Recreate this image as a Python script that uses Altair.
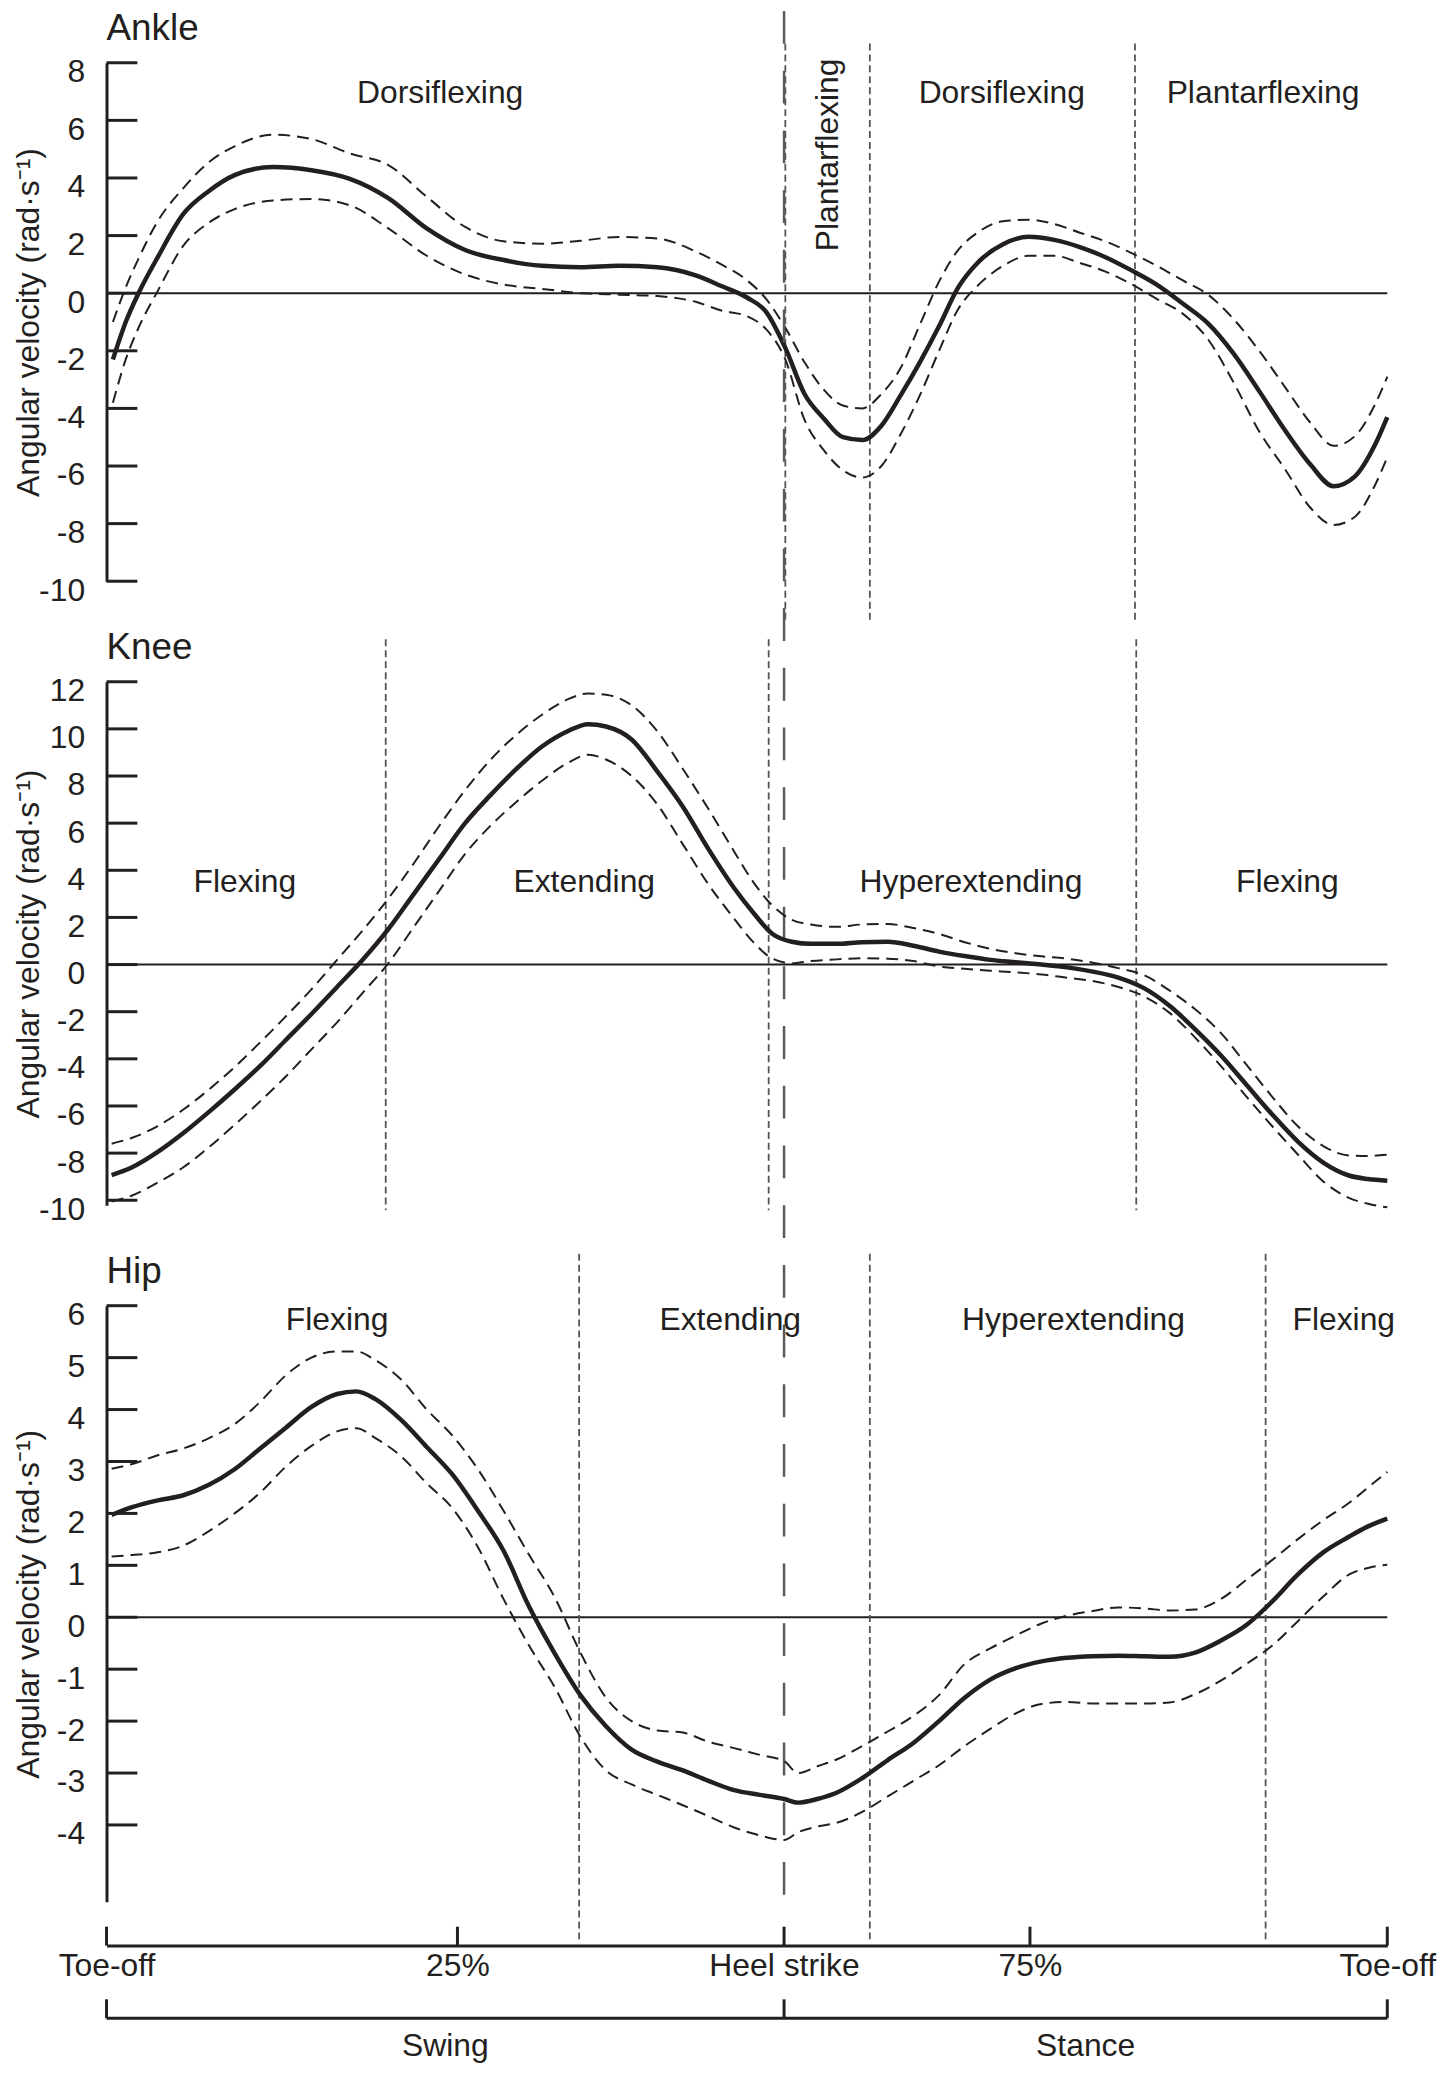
import altair as alt
import pandas as pd

FONT = "Liberation Sans"
INK = "#231f20"
W = 1287

# ---------------- data (x = % of the plotted gait cycle width) ----------------
ankle_x = [0.5, 1.5, 2.5, 4, 6, 8, 10, 13, 16, 19, 22, 25, 28, 31, 34, 37, 40, 43, 46, 48,
           50, 51.5, 53, 54.5, 56, 57.5, 59, 60.5, 62, 63.5, 65, 66.5, 68, 70, 72, 74, 76, 78, 80, 82,
           84, 86, 88, 90, 92, 94, 95.8, 97.5, 99, 100]
ankle_mean = [-2.3, -1.0, 0.0, 1.25, 2.75, 3.55, 4.1, 4.38, 4.27, 3.97, 3.3, 2.25, 1.5, 1.15, 0.95, 0.9, 0.95, 0.9, 0.62, 0.25,
              -0.15, -0.65, -1.9, -3.5, -4.35, -5.0, -5.1, -4.6, -3.55, -2.4, -1.15, 0.2, 1.05, 1.7, 1.96, 1.85, 1.6, 1.25, 0.8, 0.3,
              -0.35, -1.05, -2.1, -3.4, -4.75, -5.95, -6.7, -6.35, -5.3, -4.3]
ankle_upper = [-1.0, 0.2, 1.2, 2.5, 3.65, 4.55, 5.1, 5.5, 5.35, 4.85, 4.45, 3.35, 2.3, 1.8, 1.72, 1.82, 1.95, 1.9, 1.45, 1.0,
               0.45, -0.2, -1.2, -2.4, -3.35, -3.9, -4.0, -3.5, -2.6, -1.1, 0.4, 1.5, 2.1, 2.5, 2.55, 2.4, 2.1, 1.8, 1.4, 0.95,
               0.45, -0.05, -0.9, -2.0, -3.25, -4.5, -5.3, -4.95, -3.9, -2.9]
ankle_lower = [-3.8, -2.3, -1.2, 0.08, 1.65, 2.45, 2.92, 3.22, 3.27, 3.05, 2.25, 1.3, 0.65, 0.3, 0.15, 0.0, -0.05, -0.1, -0.3, -0.6,
               -0.8, -1.25, -2.3, -4.4, -5.45, -6.15, -6.4, -6.0, -4.9, -3.55, -2.0, -0.55, 0.25, 0.95, 1.3, 1.3, 1.05, 0.75, 0.32, -0.2,
               -0.7, -1.6, -3.1, -4.8, -6.1, -7.45, -8.05, -7.75, -6.7, -5.7]

knee_x = [0.4, 2, 4, 6, 8, 10, 12, 14, 16, 18, 20, 22, 24, 26, 28, 30, 32, 34, 36, 37.6,
          39, 41, 43, 45, 47, 49, 50.5, 52, 53.5, 55, 57, 59, 61, 63, 65, 67, 69, 71, 73, 75,
          77, 79, 81, 83, 85, 87, 89, 91, 93, 95, 97, 98.5, 100]
knee_mean = [-8.93, -8.6, -7.95, -7.15, -6.25, -5.3, -4.3, -3.2, -2.1, -0.95, 0.2, 1.5, 3.0, 4.5, 6.0, 7.2, 8.3, 9.25, 9.9, 10.2,
             10.1, 9.55, 8.2, 6.7, 4.9, 3.25, 2.2, 1.3, 0.97, 0.88, 0.88, 0.95, 0.97, 0.8, 0.55, 0.36, 0.2, 0.1, 0.0, -0.12,
             -0.3, -0.55, -1.0, -1.75, -2.75, -3.85, -5.1, -6.35, -7.5, -8.4, -8.95, -9.1, -9.17]
knee_upper = [-7.6, -7.35, -6.85, -6.15, -5.3, -4.35, -3.3, -2.2, -1.05, 0.2, 1.45, 2.8, 4.3, 5.9, 7.4, 8.7, 9.75, 10.6, 11.25, 11.5,
              11.45, 11.0, 9.9, 8.3, 6.6, 4.8, 3.5, 2.5, 1.9, 1.7, 1.6, 1.7, 1.72, 1.55, 1.3, 0.95, 0.67, 0.48, 0.35, 0.25,
              0.08, -0.15, -0.45, -1.1, -1.9, -2.9, -4.25, -5.6, -6.85, -7.7, -8.1, -8.12, -8.07]
knee_lower = [-10.05, -9.8, -9.25, -8.6, -7.75, -6.8, -5.8, -4.75, -3.6, -2.45, -1.2, 0.05, 1.6, 3.15, 4.7, 5.9, 6.9, 7.8, 8.55, 8.9,
              8.7, 8.0, 6.8, 5.1, 3.4, 1.95, 0.95, 0.25, 0.05, 0.15, 0.22, 0.27, 0.25, 0.15, -0.08, -0.18, -0.26, -0.33, -0.42, -0.56,
              -0.7, -0.95, -1.35, -2.05, -3.1, -4.3, -5.6, -6.85, -8.05, -9.2, -9.9, -10.15, -10.3]

hip_x = [0.4, 2, 4, 6, 8, 10, 12, 14, 16, 18, 19.5, 21, 23, 25, 27, 29, 31, 33, 35, 37,
         39, 41, 43, 45, 47, 49, 51, 52.9, 54, 55.5, 57, 59, 61, 63, 65, 67, 69, 71, 73, 75,
         77, 79, 81, 83, 85, 87, 89, 91, 93, 95, 97, 98.5, 100]
hip_mean = [1.97, 2.12, 2.25, 2.35, 2.55, 2.85, 3.25, 3.65, 4.05, 4.3, 4.35, 4.2, 3.8, 3.28, 2.75, 2.05, 1.28, 0.2, -0.7, -1.5,
            -2.1, -2.55, -2.78, -2.95, -3.15, -3.33, -3.42, -3.5, -3.57, -3.5, -3.38, -3.1, -2.75, -2.42, -2.0, -1.55, -1.2, -0.98, -0.85, -0.78,
            -0.75, -0.74, -0.75, -0.76, -0.68, -0.45, -0.15, 0.3, 0.82, 1.25, 1.55, 1.75, 1.9]
hip_upper = [2.86, 2.95, 3.12, 3.25, 3.45, 3.72, 4.15, 4.66, 5.0, 5.12, 5.12, 4.95, 4.58, 4.0, 3.5, 2.85, 2.05, 1.2, 0.38, -0.68,
             -1.55, -2.0, -2.18, -2.22, -2.4, -2.52, -2.65, -2.77, -3.0, -2.87, -2.74, -2.48, -2.2, -1.9, -1.5, -0.9, -0.6, -0.35, -0.12, 0.03,
             0.12, 0.19, 0.17, 0.13, 0.15, 0.35, 0.72, 1.1, 1.5, 1.87, 2.2, 2.5, 2.8]
hip_lower = [1.17, 1.2, 1.25, 1.38, 1.66, 2.0, 2.4, 2.9, 3.3, 3.58, 3.64, 3.45, 3.1, 2.58, 2.1, 1.35, 0.35, -0.55, -1.35, -2.3,
             -2.95, -3.22, -3.42, -3.62, -3.83, -4.05, -4.2, -4.29, -4.14, -4.03, -3.96, -3.75, -3.45, -3.15, -2.85, -2.48, -2.15, -1.85, -1.67, -1.63,
             -1.66, -1.66, -1.66, -1.64, -1.48, -1.22, -0.9, -0.55, -0.08, 0.4, 0.82, 0.95, 1.01]

ankle_ticks = [8, 6, 4, 2, 0, -2, -4, -6, -8, -10]
knee_ticks = [12, 10, 8, 6, 4, 2, 0, -2, -4, -6, -8, -10]
hip_ticks = [6, 5, 4, 3, 2, 1, 0, -1, -2, -3, -4]

axis_positions = [0, 27.4, 52.9, 72.1, 100]
axis_labels = ["Toe-off", "25%", "Heel strike", "75%", "Toe-off"]
heel_strike = 52.9
segment_bounds = [0, 52.9, 100]
segment_names = ["Swing", "Stance"]

ankle_phase_x = [53.0, 59.6, 80.3]
ankle_phase_span = [8.67, -11.4]
ankle_labels = ["Dorsiflexing", "Dorsiflexing", "Plantarflexing"]
ankle_label_x = [26.05, 69.9, 90.3]
ankle_label_y = 6.95
ankle_vertical_label = "Plantarflexing"
ankle_vertical_x = 56.3
ankle_vertical_y = 4.8

knee_phase_x = [21.8, 51.7, 80.4]
knee_phase_span = [13.8, -10.42]
knee_labels = ["Flexing", "Extending", "Hyperextending", "Flexing"]
knee_label_x = [10.8, 37.3, 67.5, 92.2]
knee_label_y = 3.5

hip_phase_x = [36.9, 59.6, 90.5]
hip_phase_span = [7.0, -6.2]
hip_labels = ["Flexing", "Extending", "Hyperextending", "Flexing"]
hip_label_x = [18.0, 48.7, 75.5, 96.6]
hip_label_y = 5.73

# ---------------- chart ----------------
xscale = alt.Scale(domain=[0, 100], nice=False, zero=False)
label_expr = " : ".join(f"datum.value == {p} ? '{l}'" for p, l in zip(axis_positions, axis_labels)) + " : ''"

X_AXIS = alt.Axis(values=axis_positions, labelExpr=label_expr, offset=44,
                  ticks=False, tickSize=0, labelPadding=5, domainWidth=3,
                  domainColor=INK, labelFontSize=32, labelFont=FONT,
                  labelColor=INK, title=None, grid=False, labelFlush=False,
                  labelOverlap=False, labelBound=False)


def y_axis(ticks, h):
    return alt.Axis(values=ticks, title="Angular velocity (rad·s⁻¹)", ticks=False, tickSize=0,
                    labelPadding=22, labelOffset=9, grid=False, domain=True, domainWidth=3,
                    domainColor=INK, labelExpr="'' + datum.value", labelFontSize=32,
                    labelFont=FONT, labelColor=INK, labelOverlap=False, labelFlush=False,
                    titleX=-68, titleY=h / 2, titleAngle=270, titleBaseline="alphabetic",
                    titleAlign="center", titleFontSize=32, titleFont=FONT,
                    titleFontWeight="normal", titleColor=INK)


def panel(title, xs, mean, upper, lower, domain, ticks, h, phase_x, phase_span,
          labels, label_x, label_y, show_x=False, extra=()):
    ys = alt.Scale(domain=domain, nice=False, zero=False)
    yax = y_axis(ticks, h)
    xax = X_AXIS if show_x else None

    def X(field):
        return alt.X(field, type="quantitative", scale=xscale, axis=xax)

    def Y(field):
        return alt.Y(field, type="quantitative", scale=ys, axis=yax)

    curves = pd.DataFrame({"x": xs, "mean": mean, "upper": upper, "lower": lower})

    ticks_layer = alt.Chart(pd.DataFrame({"v": ticks})).mark_rule(
        color=INK, strokeWidth=3).encode(y=Y("v"), x=alt.value(0), x2=alt.value(31))
    zero = alt.Chart(pd.DataFrame({"v": [0]})).mark_rule(color=INK, strokeWidth=2).encode(
        y=Y("v"), x=alt.value(0), x2=alt.value(W))
    phases = alt.Chart(pd.DataFrame({"x": phase_x,
                                     "top": [phase_span[0]] * len(phase_x),
                                     "bottom": [phase_span[1]] * len(phase_x)})).mark_rule(
        color="#555555", strokeWidth=1.8, strokeDash=[7, 4]).encode(
        x=X("x"), y=Y("top"), y2="bottom:Q")
    lo = alt.Chart(curves).mark_line(color=INK, strokeWidth=2, strokeDash=[12, 7],
                                     interpolate="monotone").encode(x=X("x"), y=Y("lower"))
    up = alt.Chart(curves).mark_line(color=INK, strokeWidth=2, strokeDash=[12, 7],
                                     interpolate="monotone").encode(x=X("x"), y=Y("upper"))
    mn = alt.Chart(curves).mark_line(color=INK, strokeWidth=4.5,
                                     interpolate="monotone").encode(x=X("x"), y=Y("mean"))
    txt = alt.Chart(pd.DataFrame({"label": labels, "x": label_x,
                                  "y": [label_y] * len(labels)})).mark_text(
        font=FONT, fontSize=32, color=INK, baseline="middle").encode(
        x=X("x"), y=Y("y"), text="label:N")
    ttl = alt.Chart(pd.DataFrame({"t": [title]})).mark_text(
        font=FONT, fontSize=37, color=INK, align="left", baseline="alphabetic").encode(
        text="t:N", x=alt.value(0), y=alt.value(-23))
    layers = [ticks_layer, zero, phases, lo, up, mn, txt, ttl]
    for e in extra:
        layers.append(e(X, Y, h))
    return alt.layer(*layers).properties(width=W, height=h)


def heel_line(X, Y, h):
    return alt.Chart(pd.DataFrame({"x": [heel_strike]})).mark_rule(
        color="#5a5a5a", strokeWidth=2.5, strokeDash=[33, 27]).encode(
        x=X("x"), y=alt.value(-52), y2=alt.value(1853))


def vertical_label(X, Y, h):
    return alt.Chart(pd.DataFrame({"label": [ankle_vertical_label], "x": [ankle_vertical_x],
                                   "y": [ankle_vertical_y]})).mark_text(
        font=FONT, fontSize=32, color=INK, angle=270, baseline="middle", align="center").encode(
        x=X("x"), y=Y("y"), text="label:N")


def x_ticks(X, Y, h):
    return alt.Chart(pd.DataFrame({"x": axis_positions})).mark_rule(
        color=INK, strokeWidth=3).encode(x=X("x"), y=alt.value(h + 25), y2=alt.value(h + 44))


def bracket(X, Y, h):
    line = alt.Chart(pd.DataFrame({"x": [segment_bounds[0]], "b": [segment_bounds[-1]]})).mark_rule(
        color=INK, strokeWidth=3).encode(x=X("x"), x2="b:Q", y=alt.value(h + 117))
    ends = alt.Chart(pd.DataFrame({"x": segment_bounds})).mark_rule(
        color=INK, strokeWidth=3).encode(x=X("x"), y=alt.value(h + 98), y2=alt.value(h + 117))
    mids = [(segment_bounds[i] + segment_bounds[i + 1]) / 2 for i in range(len(segment_names))]
    names = alt.Chart(pd.DataFrame({"label": segment_names, "x": mids})).mark_text(
        font=FONT, fontSize=32, color=INK, baseline="alphabetic").encode(
        x=X("x"), y=alt.value(h + 155), text="label:N")
    return alt.layer(line, ends, names)


ankle = panel("Ankle", ankle_x, ankle_mean, ankle_upper, ankle_lower, [-10, 8], ankle_ticks, 521,
              ankle_phase_x, ankle_phase_span, ankle_labels, ankle_label_x, ankle_label_y,
              extra=(heel_line, vertical_label))
knee = panel("Knee", knee_x, knee_mean, knee_upper, knee_lower, [-10.21, 12], knee_ticks, 526,
             knee_phase_x, knee_phase_span, knee_labels, knee_label_x, knee_label_y)
hip = panel("Hip", hip_x, hip_mean, hip_upper, hip_lower, [-5.48, 6], hip_ticks, 599,
            hip_phase_x, hip_phase_span, hip_labels, hip_label_x, hip_label_y,
            show_x=True, extra=(x_ticks, bracket))

chart = alt.vconcat(ankle, knee, hip, spacing=101, bounds="flush").properties(
    padding={"left": 4, "top": -4, "right": 10, "bottom": 5}
).configure(font=FONT).configure_view(stroke=None)

chart.save("out.html", embed_options={"renderer": "svg", "actions": False})
